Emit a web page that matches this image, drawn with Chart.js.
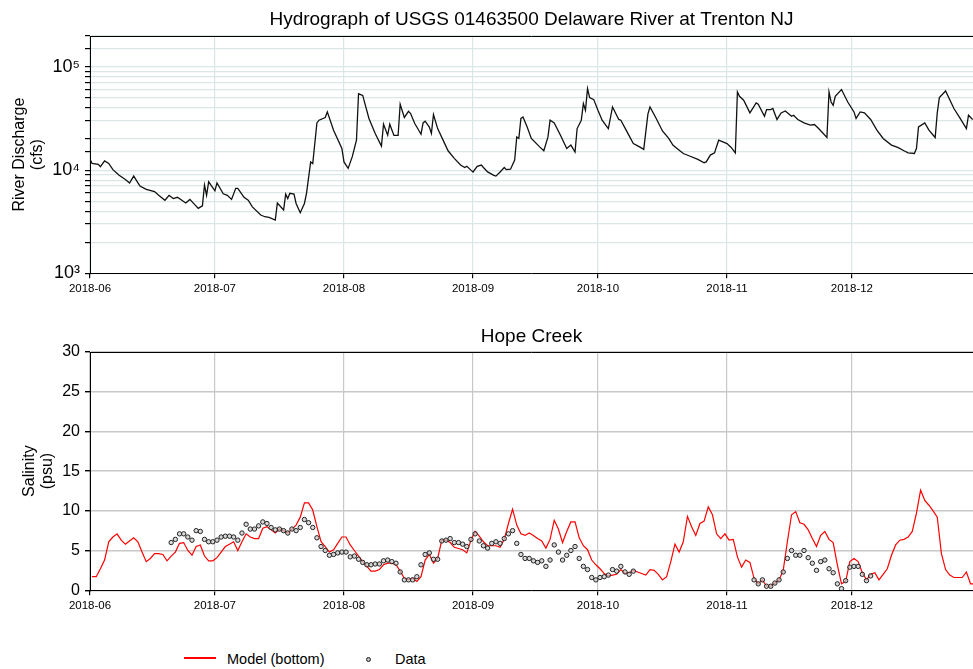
<!DOCTYPE html>
<html>
<head>
<meta charset="utf-8">
<script src="https://cdn.jsdelivr.net/npm/chart.js@4.4.1/dist/chart.umd.min.js"></script>
<style>
  body { margin: 0; background: #fff; width: 973px; height: 669px; overflow: hidden; position: relative;
         font-family: "Liberation Sans", Arial, sans-serif; }
  canvas { position: absolute; left: 0; }
  #flow { top: 0; }
  #sal { top: 300px; }
  .lg { position: absolute; font-size: 14.5px; line-height: 16px; color: #000; white-space: nowrap; }
  #lgLine { position: absolute; left: 184px; top: 657px; width: 32px; height: 2px; background: #ff0000; }
  #lgDot { position: absolute; left: 366px; top: 657px; width: 3px; height: 3px; border: 1px solid #222;
           border-radius: 50%; background: #bbb; }
</style>
</head>
<body>
<canvas id="flow" width="973" height="300"></canvas>
<canvas id="sal" width="973" height="317"></canvas>
<div id="lgLine"></div><div class="lg" style="left:227px;top:651px">Model (bottom)</div>
<div id="lgDot"></div><div class="lg" style="left:395px;top:651px">Data</div>
<script>
// month tick labels shared by both panels
const monthTicks = ['2018-06', '2018-07', '2018-08', '2018-09', '2018-10', '2018-11', '2018-12'];
const xEnd = '2018-12-30 02';

// USGS 01463500 discharge (cfs)
const flowDates = [
  '2018-06-01', '2018-06-01 12', '2018-06-03', '2018-06-03 12', '2018-06-04 12', '2018-06-05 12', '2018-06-06 12',
  '2018-06-08', '2018-06-09 12', '2018-06-10 12', '2018-06-11 12', '2018-06-13', '2018-06-14 12', '2018-06-16 12',
  '2018-06-17 12', '2018-06-19', '2018-06-20', '2018-06-21', '2018-06-22', '2018-06-24', '2018-06-25',
  '2018-06-26', '2018-06-27', '2018-06-28', '2018-06-28 12', '2018-06-29', '2018-06-29 12', '2018-07-01',
  '2018-07-01 12', '2018-07-03', '2018-07-04', '2018-07-05', '2018-07-06', '2018-07-06 12', '2018-07-08',
  '2018-07-09', '2018-07-10', '2018-07-12', '2018-07-13', '2018-07-14', '2018-07-15 12', '2018-07-16',
  '2018-07-17 12', '2018-07-18', '2018-07-18 12', '2018-07-19', '2018-07-20', '2018-07-20 12', '2018-07-21 12',
  '2018-07-22 12', '2018-07-23', '2018-07-24', '2018-07-24 12', '2018-07-25 12', '2018-07-26', '2018-07-27 12',
  '2018-07-28', '2018-07-29 12', '2018-07-31 12', '2018-08-01', '2018-08-02', '2018-08-03', '2018-08-04',
  '2018-08-04 12', '2018-08-05 12', '2018-08-07', '2018-08-08 12', '2018-08-10', '2018-08-10 12', '2018-08-11 12',
  '2018-08-12', '2018-08-13', '2018-08-14', '2018-08-14 12', '2018-08-15 12', '2018-08-16 12', '2018-08-17',
  '2018-08-18', '2018-08-18 12', '2018-08-19 12', '2018-08-20', '2018-08-20 12', '2018-08-21 12', '2018-08-22',
  '2018-08-22 12', '2018-08-23 12', '2018-08-25', '2018-08-26', '2018-08-27 12', '2018-08-29', '2018-08-30',
  '2018-08-30 12', '2018-08-31 12', '2018-09-01', '2018-09-02', '2018-09-03', '2018-09-03 12', '2018-09-04 12',
  '2018-09-06', '2018-09-06 12', '2018-09-07 12', '2018-09-08 12', '2018-09-09', '2018-09-10', '2018-09-11',
  '2018-09-11 12', '2018-09-12', '2018-09-12 12', '2018-09-13', '2018-09-14', '2018-09-15', '2018-09-17',
  '2018-09-18', '2018-09-19', '2018-09-19 12', '2018-09-20 12', '2018-09-22', '2018-09-23 12', '2018-09-24 12',
  '2018-09-25 12', '2018-09-26', '2018-09-27', '2018-09-27 12', '2018-09-28', '2018-09-28 12', '2018-09-29',
  '2018-09-30', '2018-10-01', '2018-10-02', '2018-10-03 12', '2018-10-04 12', '2018-10-06', '2018-10-06 12',
  '2018-10-08', '2018-10-09 12', '2018-10-11', '2018-10-12', '2018-10-13', '2018-10-13 12', '2018-10-15',
  '2018-10-16 12', '2018-10-18', '2018-10-19', '2018-10-20', '2018-10-21 12', '2018-10-23', '2018-10-25',
  '2018-10-26 12', '2018-10-27', '2018-10-28', '2018-10-29', '2018-10-30', '2018-10-31', '2018-11-01',
  '2018-11-02', '2018-11-03', '2018-11-03 12', '2018-11-04', '2018-11-05', '2018-11-06 12', '2018-11-08',
  '2018-11-08 12', '2018-11-10', '2018-11-10 12', '2018-11-11 12', '2018-11-12', '2018-11-13', '2018-11-14',
  '2018-11-15', '2018-11-16 12', '2018-11-17', '2018-11-18', '2018-11-19 12', '2018-11-21', '2018-11-22',
  '2018-11-23', '2018-11-25', '2018-11-25 12', '2018-11-26', '2018-11-26 12', '2018-11-27', '2018-11-28 12',
  '2018-11-30', '2018-12-01 12', '2018-12-02', '2018-12-03', '2018-12-04', '2018-12-05 12', '2018-12-07',
  '2018-12-08 12', '2018-12-10 12', '2018-12-12', '2018-12-13 12', '2018-12-14 12', '2018-12-16', '2018-12-16 12',
  '2018-12-17', '2018-12-18 12', '2018-12-19 12', '2018-12-21', '2018-12-21 12', '2018-12-22', '2018-12-23 12',
  '2018-12-25 12', '2018-12-27', '2018-12-28 12', '2018-12-29', '2018-12-30'
];
const flowCfs = [
  12700, 11600, 11400, 10800, 12300, 11600, 10100,
  8900, 8100, 7500, 8750, 7000, 6500, 6200,
  5700, 5100, 5700, 5300, 5450, 4800, 5200,
  4700, 4250, 4500, 7150, 5700, 7700, 6300,
  7500, 5900, 5700, 5200, 6650, 6650, 5450,
  5100, 4400, 3670, 3530, 3480, 3280, 4800,
  4100, 5850, 5300, 5950, 5850, 4750, 3860,
  4750, 5950, 12000, 11600, 28700, 30500, 32400,
  36700, 24400, 16200, 12000, 10400, 13500, 19500,
  55000, 53000, 31700, 22700, 17100, 27900, 21800,
  27900, 21700, 21700, 43500, 32400, 37200, 35400,
  28300, 26200, 22300, 28700, 29800, 26200, 22700,
  34600, 25300, 18800, 15400, 13000, 11200, 10600,
  10900, 10000, 9600, 10900, 11200, 10600, 9600,
  8900, 8750, 9600, 10600, 10100, 10200, 12500,
  21000, 20300, 31700, 32800, 26200, 20300, 16800,
  15400, 21000, 30500, 28700, 21800, 16200, 17500,
  15000, 25300, 30500, 44200, 38100, 61800, 50500,
  48300, 38100, 30500, 25300, 41000, 31000, 30500,
  23500, 18100, 16800, 15900, 34900, 41000, 31700,
  24000, 20300, 17500, 16200, 14500, 13700, 12700,
  11800, 12000, 14000, 14700, 19500, 18800, 18100,
  16600, 14700, 57300, 52000, 47600, 35900, 44800,
  43500, 33300, 38700, 38700, 39600, 31000, 35900,
  37500, 33300, 34100, 31000, 28700, 27300, 27700,
  25300, 20700, 57300, 45800, 42600, 52000, 60500,
  45800, 36700, 31700, 36700, 35900, 31000, 24400,
  20300, 17500, 16600, 15400, 14700, 14500, 16200,
  26200, 28700, 24400, 20700, 35900, 50500, 58600,
  39600, 31700, 25300, 34100, 31000
];

// Hope Creek salinity (psu), one value per day from 2018-06-01
const salStart = '2018-06-01 12';
const modelPsu = [
  1.7, 1.7, 2.7, 3.8, 6.1, 6.7, 7.1, 6.3, 5.8, 6.2,
  6.6, 6.1, 4.8, 3.6, 4.0, 4.6, 4.6, 4.5, 3.7, 4.3,
  4.8, 5.9, 6.0, 5.0, 4.4, 5.5, 5.7, 4.3, 3.7, 3.7,
  4.1, 4.8, 5.5, 5.8, 6.1, 5.0, 6.1, 7.1, 6.7, 6.5,
  6.5, 7.8, 8.0, 7.6, 7.2, 7.7, 7.5, 7.2, 7.7, 8.2,
  9.2, 11.0, 11.0, 10.1, 8.0, 6.1, 5.5, 4.8, 5.1, 5.9,
  6.7, 6.7, 5.7, 5.0, 4.3, 3.6, 3.0, 2.4, 2.4, 2.6,
  3.2, 3.4, 3.4, 3.2, 2.4, 1.5, 1.3, 1.5, 1.1, 1.7,
  3.8, 4.5, 3.4, 4.0, 6.3, 6.3, 6.0, 5.4, 5.25, 5.1,
  4.7, 6.3, 7.4, 6.8, 6.1, 5.6, 5.6, 5.6, 5.4, 6.4,
  8.4, 10.2, 8.2, 7.1, 6.9, 7.2, 6.9, 6.5, 6.2, 5.3,
  6.4, 8.8, 7.7, 6.0, 7.4, 8.6, 8.6, 6.6, 5.6, 5.1,
  3.8, 3.2, 2.7, 2.1, 1.8, 1.9, 2.0, 2.6, 2.1, 2.2,
  2.5, 2.3, 2.1, 1.9, 2.6, 2.5, 2.0, 1.3, 1.7, 3.6,
  5.8, 4.8, 6.1, 9.3, 8.0, 6.9, 8.4, 8.7, 10.5, 9.5,
  7.1, 6.5, 7.1, 6.3, 6.4, 4.2, 2.9, 3.8, 3.5, 1.5,
  0.8, 1.3, 0.5, 0.5, 0.9, 1.3, 2.5, 6.1, 9.5, 9.9,
  8.5, 8.3, 7.6, 6.5, 5.5, 6.9, 7.4, 6.4, 6.0, 3.2,
  0.8, 1.1, 3.6, 4.0, 3.6, 2.2, 1.3, 2.0, 2.2, 1.3,
  2.0, 2.7, 4.4, 5.7, 6.3, 6.4, 6.7, 7.4, 9.7, 12.6,
  11.3, 10.7, 10.0, 9.2, 4.6, 2.6, 1.9, 1.6, 1.6, 1.6,
  2.3, 0.8, 0.8
];
const obsPsu = [
  null, null, null, null, null, null, null, null, null, null,
  null, null, null, null, null, null, null, null, null, 6.0,
  6.4, 7.1, 7.1, 6.7, 6.3, 7.5, 7.4, 6.4, 6.1, 6.1,
  6.3, 6.7, 6.8, 6.8, 6.7, 6.3, 7.2, 8.3, 7.7, 7.7,
  8.1, 8.6, 8.4, 7.9, 7.6, 7.7, 7.5, 7.2, 7.7, 7.5,
  7.9, 8.9, 8.5, 7.9, 6.6, 5.5, 5.0, 4.4, 4.5, 4.7,
  4.8, 4.8, 4.2, 4.3, 3.9, 3.5, 3.2, 3.2, 3.3, 3.3,
  3.7, 3.8, 3.6, 3.4, 2.3, 1.3, 1.3, 1.3, 1.7, 3.2,
  4.5, 4.7, 3.9, 3.9, 6.2, 6.3, 6.5, 6.0, 6.0, 5.8,
  5.5, 6.4, 7.1, 6.2, 5.6, 5.3, 5.9, 6.1, 5.9, 6.5,
  7.1, 7.5, 5.9, 4.5, 4.0, 4.0, 3.7, 3.5, 3.7, 3.0,
  3.8, 5.7, 4.8, 3.8, 4.4, 5.0, 5.5, 4.0, 3.0, 2.6,
  1.6, 1.3, 1.6, 1.7, 1.9, 2.6, 2.4, 3.0, 2.3, 2.0,
  2.4, null, null, null, null, null, null, null, null, null,
  null, null, null, null, null, null, null, null, null, null,
  null, null, null, null, null, null, null, null, null, 1.3,
  0.8, 1.3, 0.5, 0.5, 0.9, 1.3, 2.3, 4.0, 5.0, 4.4,
  4.4, 5.0, 4.1, 3.4, 2.5, 3.6, 3.8, 2.7, 2.2, 0.8,
  0.2, 1.2, 2.9, 3.0, 3.0, 2.0, 1.2, 1.8, null, null,
  null, null, null, null, null, null, null, null, null, null,
  null, null, null
];

const FONT = '"Liberation Sans", Arial, sans-serif';
Chart.defaults.font.family = FONT;
Chart.defaults.color = '#000';

const DAY0 = Date.UTC(2018, 5, 1);
function dayOf(s) {
  const [d, h] = s.split(' ');
  const [y, m, dd] = d.split('-').map(Number);
  return (Date.UTC(y, m - 1, dd || 1) - DAY0) / 864e5 + (h ? Number(h) / 24 : 0);
}

const topSpine = {
  id: 'topSpine',
  afterDraw(chart) {
    const { ctx, chartArea: a } = chart;
    ctx.save();
    ctx.strokeStyle = '#000';
    ctx.lineWidth = 1;
    ctx.beginPath();
    ctx.moveTo(a.left, a.top + 0.5);
    ctx.lineTo(a.right, a.top + 0.5);
    ctx.stroke();
    ctx.restore();
  }
};

function xAxis(gridColor) {
  return {
    type: 'linear',
    min: 0,
    max: dayOf(xEnd),
    afterBuildTicks: (s) => { s.ticks = monthTicks.map(m => ({ value: dayOf(m) })); },
    ticks: { callback: (v, i) => monthTicks[i], maxRotation: 0, autoSkip: false, font: { size: 11.5 }, padding: 4 },
    grid: { color: gridColor, lineWidth: 1.2, tickColor: '#000', tickLength: 5 },
    border: { color: '#000', width: 1 }
  };
}

function yTitle(lines, pad) {
  return { display: true, text: lines, font: { size: 16, lineHeight: 1.125 }, padding: { top: pad, bottom: 0 } };
}

const sup = { 3: '\u00b3', 4: '\u2074', 5: '\u2075' };

new Chart(document.getElementById('flow'), {
  type: 'line',
  data: {
    datasets: [{
      data: flowDates.map((d, i) => ({ x: dayOf(d), y: flowCfs[i] })),
      borderColor: '#111', borderWidth: 1.3, pointRadius: 0, tension: 0
    }]
  },
  options: {
    responsive: false, animation: false,
    layout: { padding: 0, autoPadding: false },
    plugins: {
      legend: { display: false }, tooltip: { enabled: false },
      title: { display: true, fullSize: false, text: 'Hydrograph of USGS 01463500 Delaware River at Trenton NJ',
               font: { size: 19, weight: 'normal', lineHeight: 1.2 }, padding: { top: 8.5, bottom: 4.7 } }
    },
    scales: {
      x: xAxis('#dbe7e7'),
      y: {
        type: 'logarithmic', min: 1000, max: 200000,
        afterFit: (s) => { s.width = 90; },
        ticks: {
          autoSkip: false, font: { size: 18 }, padding: 5,
          callback: (v) => {
            const e = Math.log10(v);
            const r = Math.round(e);
            return Math.abs(e - r) < 1e-6 ? '10' + sup[r] : '';
          }
        },
        grid: { color: '#dbe7e7', lineWidth: 1.2, tickColor: '#000', tickLength: 5 },
        border: { color: '#000', width: 1 },
        title: yTitle(['River Discharge', '(cfs)'], 11)
      }
    }
  },
  plugins: [topSpine]
});

const s0 = dayOf(salStart);
new Chart(document.getElementById('sal'), {
  type: 'line',
  data: {
    datasets: [
      {
        label: 'Data',
        data: obsPsu.map((v, i) => ({ x: s0 + i, y: v })).filter(p => p.y !== null),
        showLine: false, pointRadius: 2.2, pointBorderWidth: 1,
        pointBorderColor: '#222', pointBackgroundColor: 'rgba(200,200,200,0.7)', order: 0
      },
      {
        label: 'Model (bottom)',
        data: modelPsu.map((v, i) => ({ x: s0 + i, y: v })),
        borderColor: '#ff0000', borderWidth: 1.2, pointRadius: 0, tension: 0, order: 1
      }
    ]
  },
  options: {
    responsive: false, animation: false,
    layout: { padding: 0, autoPadding: false },
    plugins: {
      legend: { display: false }, tooltip: { enabled: false },
      title: { display: true, fullSize: false, text: 'Hope Creek',
               font: { size: 19, weight: 'normal', lineHeight: 1.2 }, padding: { top: 25.3, bottom: 3.9 } }
    },
    scales: {
      x: xAxis('#c8c8c8'),
      y: {
        min: 0, max: 30,
        afterFit: (s) => { s.width = 90; },
        ticks: { stepSize: 5, font: { size: 16 }, padding: 5 },
        grid: { color: '#c8c8c8', lineWidth: 1.4, tickColor: '#000', tickLength: 5 },
        border: { color: '#000', width: 1 },
        title: yTitle(['Salinity', '(psu)'], 21)
      }
    }
  },
  plugins: [topSpine]
});
</script>
</body>
</html>
